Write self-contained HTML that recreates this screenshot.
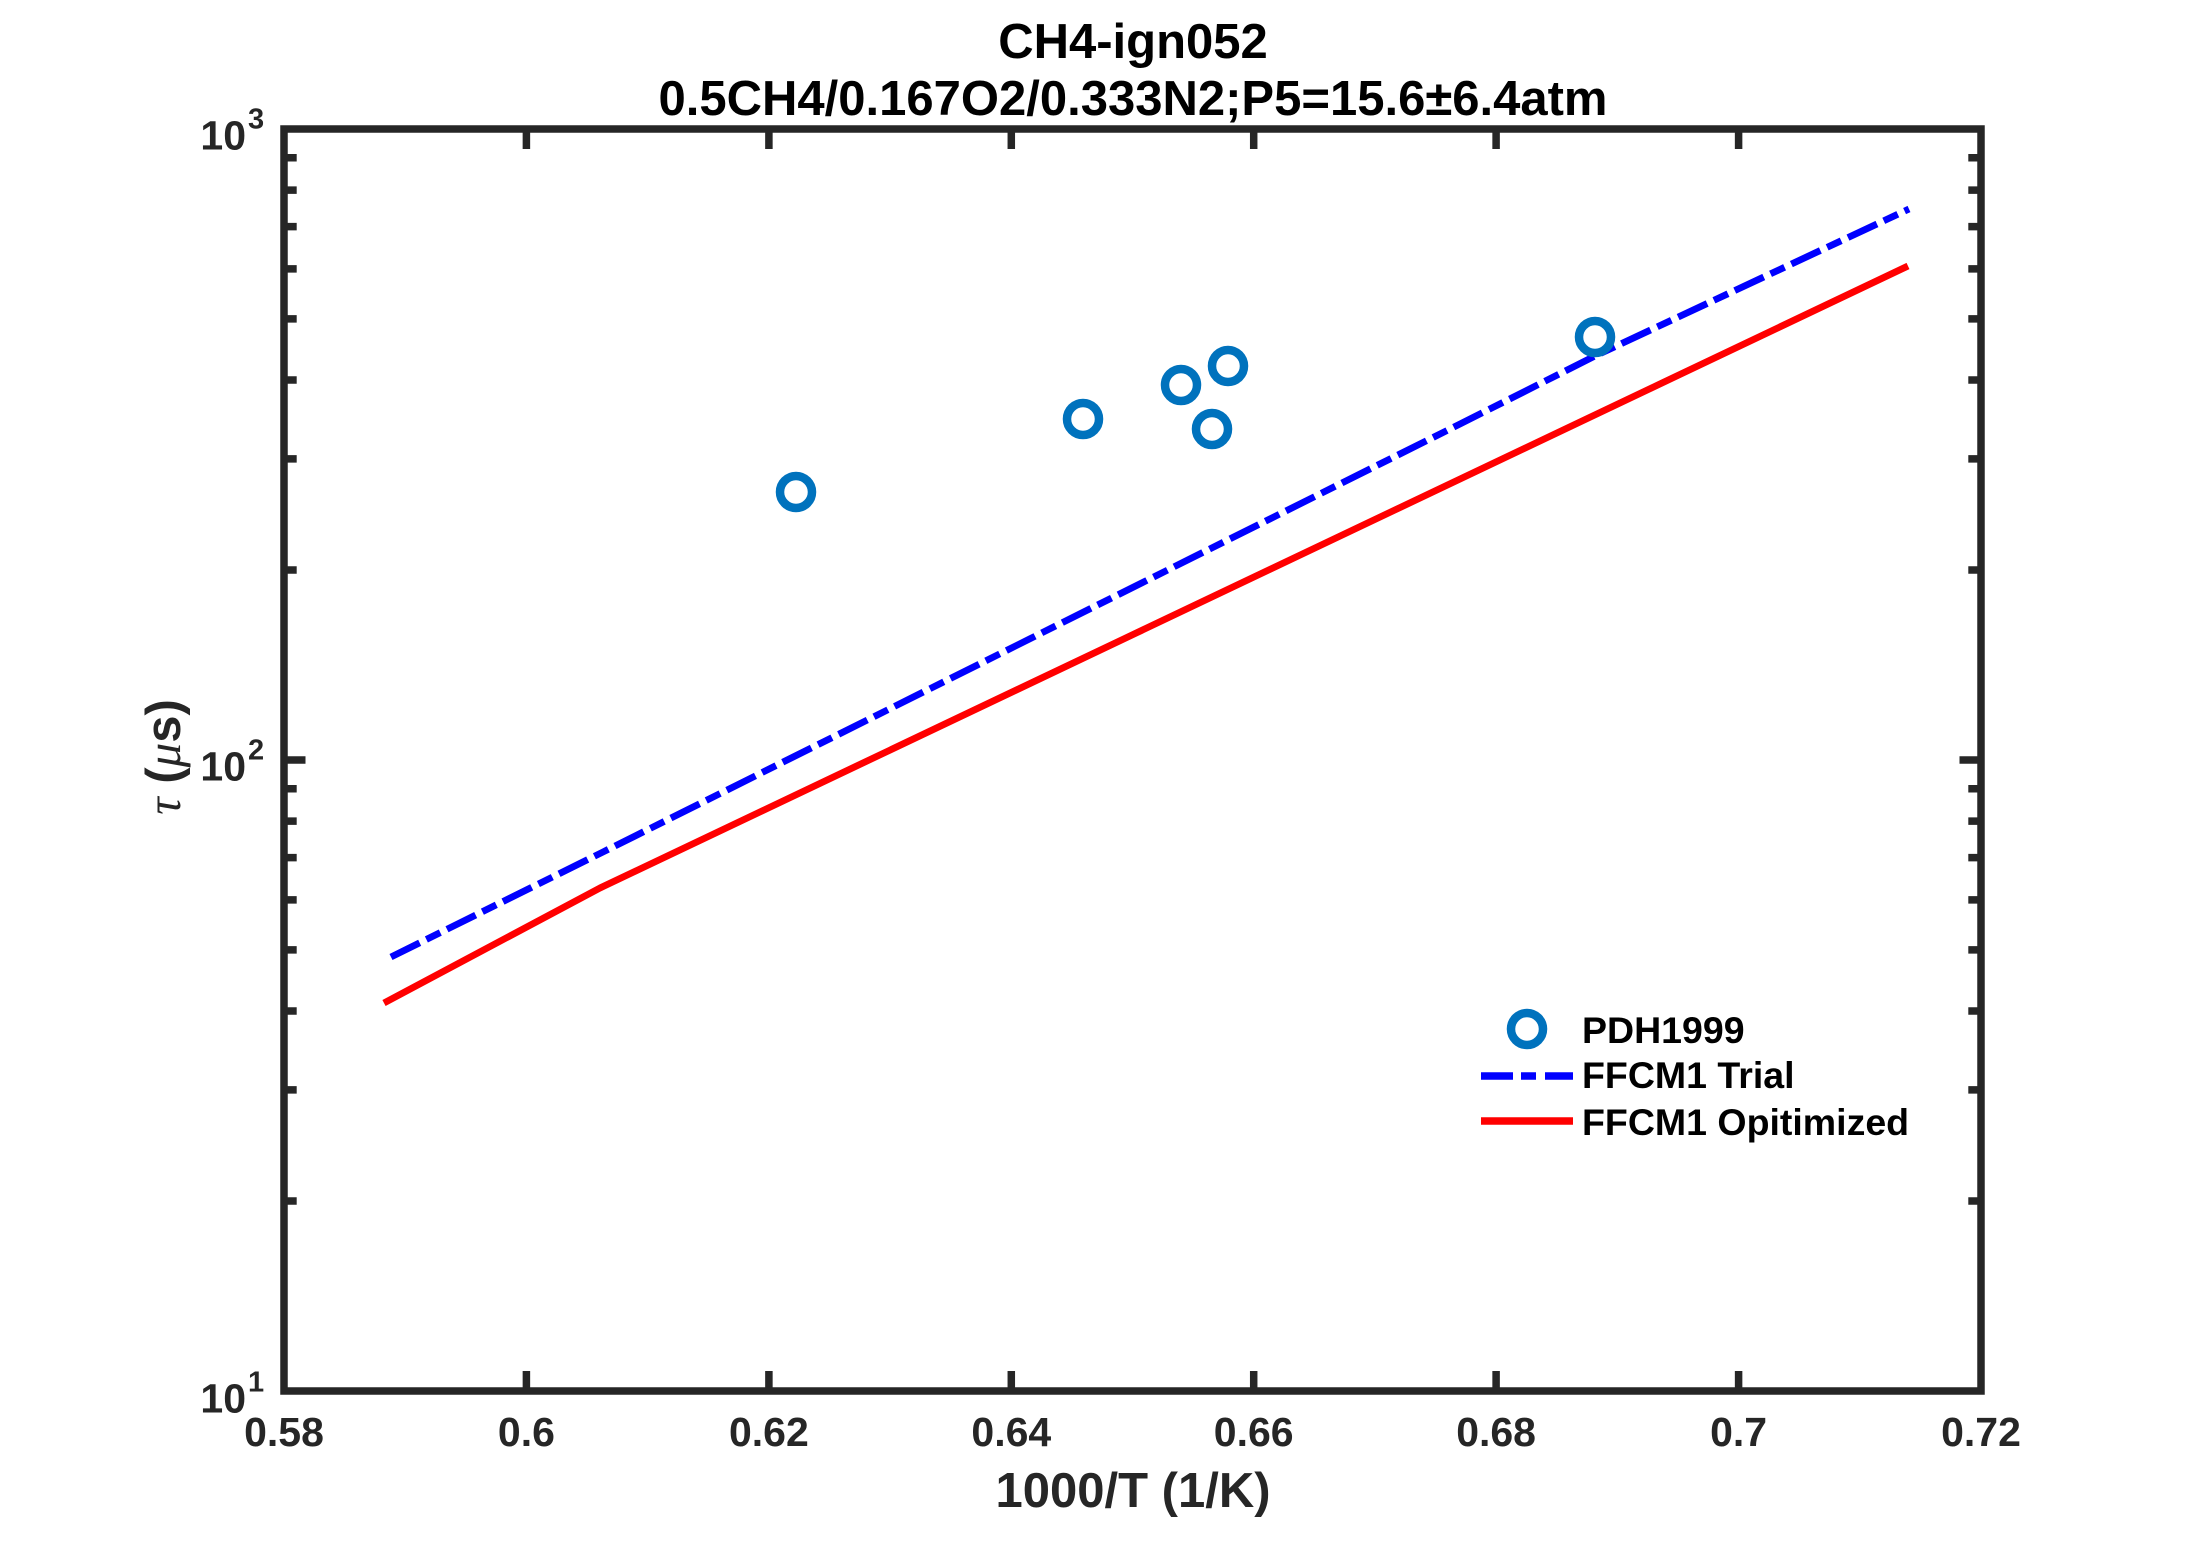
<!DOCTYPE html>
<html>
<head>
<meta charset="utf-8">
<style>
  html, body { margin: 0; padding: 0; background: #ffffff; }
  svg { display: block; }
  .tick { font-family: "Liberation Sans", Arial, sans-serif; font-weight: bold; fill: #262626; }
</style>
</head>
<body>
<svg width="2187" height="1563" viewBox="0 0 2187 1563" xmlns="http://www.w3.org/2000/svg">
  <rect x="0" y="0" width="2187" height="1563" fill="#ffffff"/>

  <!-- Title -->
  <g font-family="Liberation Sans, Arial, sans-serif" font-weight="bold" font-size="49" fill="#000" text-anchor="middle">
    <text x="1133" y="58">CH4-ign052</text>
    <text x="1133" y="115">0.5CH4/0.167O2/0.333N2;P5=15.6±6.4atm</text>
  </g>

  <!-- Data series -->
  <!-- FFCM1 Optimized (red solid) -->
  <polyline points="384,1003 600,888 1908,266"
            fill="none" stroke="#ff0000" stroke-width="6.8" stroke-linejoin="round"/>
  <!-- FFCM1 Trial (blue dash-dot) -->
  <polyline points="391,957 603,852 1460,424 1595,356 1909,209"
            fill="none" stroke="#0000ff" stroke-width="6.8" stroke-dasharray="32 7.5 15.5 7.5" stroke-linejoin="round"/>

  <!-- PDH1999 markers -->
  <g fill="none" stroke="#0072BD" stroke-width="8.5">
    <circle cx="796" cy="492" r="16"/>
    <circle cx="1083" cy="419" r="16"/>
    <circle cx="1181" cy="385" r="16"/>
    <circle cx="1212" cy="429" r="16"/>
    <circle cx="1228" cy="366" r="16"/>
    <circle cx="1595" cy="337" r="16"/>
  </g>

  <!-- Axes box -->
  <g stroke="#262626" stroke-width="7.5" fill="none">
    <rect x="284" y="129" width="1697" height="1262" stroke-linejoin="miter"/>
    <!-- X ticks bottom and top -->
    <path d="M526.4,1391 V1371 M768.9,1391 V1371 M1011.3,1391 V1371 M1253.7,1391 V1371 M1496.1,1391 V1371 M1738.6,1391 V1371
             M526.4,129 V149 M768.9,129 V149 M1011.3,129 V149 M1253.7,129 V149 M1496.1,129 V149 M1738.6,129 V149"/>
    <!-- Y major tick at 10^2 -->
    <path d="M284,760 H305.5 M1981,760 H1959.5"/>
    <!-- Y minor ticks -->
    <path d="
      M284,1201.0 H296.7 M284,1089.9 H296.7 M284,1011.0 H296.7 M284,949.9 H296.7 M284,899.9 H296.7 M284,857.6 H296.7 M284,821.1 H296.7 M284,788.8 H296.7
      M284,570.0 H296.7 M284,458.9 H296.7 M284,380.0 H296.7 M284,318.9 H296.7 M284,268.9 H296.7 M284,226.6 H296.7 M284,190.1 H296.7 M284,157.8 H296.7
      M1981,1201.0 H1968.3 M1981,1089.9 H1968.3 M1981,1011.0 H1968.3 M1981,949.9 H1968.3 M1981,899.9 H1968.3 M1981,857.6 H1968.3 M1981,821.1 H1968.3 M1981,788.8 H1968.3
      M1981,570.0 H1968.3 M1981,458.9 H1968.3 M1981,380.0 H1968.3 M1981,318.9 H1968.3 M1981,268.9 H1968.3 M1981,226.6 H1968.3 M1981,190.1 H1968.3 M1981,157.8 H1968.3"/>
  </g>

  <!-- X tick labels -->
  <g class="tick" font-size="41" text-anchor="middle">
    <text x="284" y="1446">0.58</text>
    <text x="526.4" y="1446">0.6</text>
    <text x="768.9" y="1446">0.62</text>
    <text x="1011.3" y="1446">0.64</text>
    <text x="1253.7" y="1446">0.66</text>
    <text x="1496.1" y="1446">0.68</text>
    <text x="1738.6" y="1446">0.7</text>
    <text x="1981" y="1446">0.72</text>
  </g>

  <!-- Y tick labels -->
  <g class="tick">
    <text x="246" y="149.5" font-size="41" text-anchor="end">10</text>
    <text x="248" y="128.5" font-size="29">3</text>
    <text x="246" y="780.5" font-size="41" text-anchor="end">10</text>
    <text x="248" y="759.5" font-size="29">2</text>
    <text x="246" y="1412.5" font-size="41" text-anchor="end">10</text>
    <text x="248" y="1391.5" font-size="29">1</text>
  </g>

  <!-- X label -->
  <text x="1133" y="1507" font-family="Liberation Sans, Arial, sans-serif" font-weight="bold" font-size="49" fill="#262626" text-anchor="middle">1000/T (1/K)</text>

  <!-- Y label -->
  <text transform="translate(180,757) rotate(-90)" text-anchor="middle" font-size="49" fill="#262626" font-family="Liberation Sans, Arial, sans-serif"><tspan font-family="Liberation Serif, serif" font-style="italic">τ</tspan><tspan font-weight="bold"> (</tspan><tspan font-family="Liberation Serif, serif" font-style="italic">μ</tspan><tspan font-weight="bold">s)</tspan></text>

  <!-- Legend -->
  <circle cx="1527" cy="1029" r="16" fill="none" stroke="#0072BD" stroke-width="8.5"/>
  <line x1="1481" y1="1076" x2="1573" y2="1076" stroke="#0000ff" stroke-width="7.5" stroke-dasharray="32 8 15 9"/>
  <line x1="1481" y1="1121" x2="1573" y2="1121" stroke="#ff0000" stroke-width="7.5"/>
  <g font-family="Liberation Sans, Arial, sans-serif" font-weight="bold" font-size="37.5" fill="#000">
    <text x="1582" y="1043">PDH1999</text>
    <text x="1582" y="1088">FFCM1 Trial</text>
    <text x="1582" y="1135">FFCM1 Opitimized</text>
  </g>
</svg>
</body>
</html>
